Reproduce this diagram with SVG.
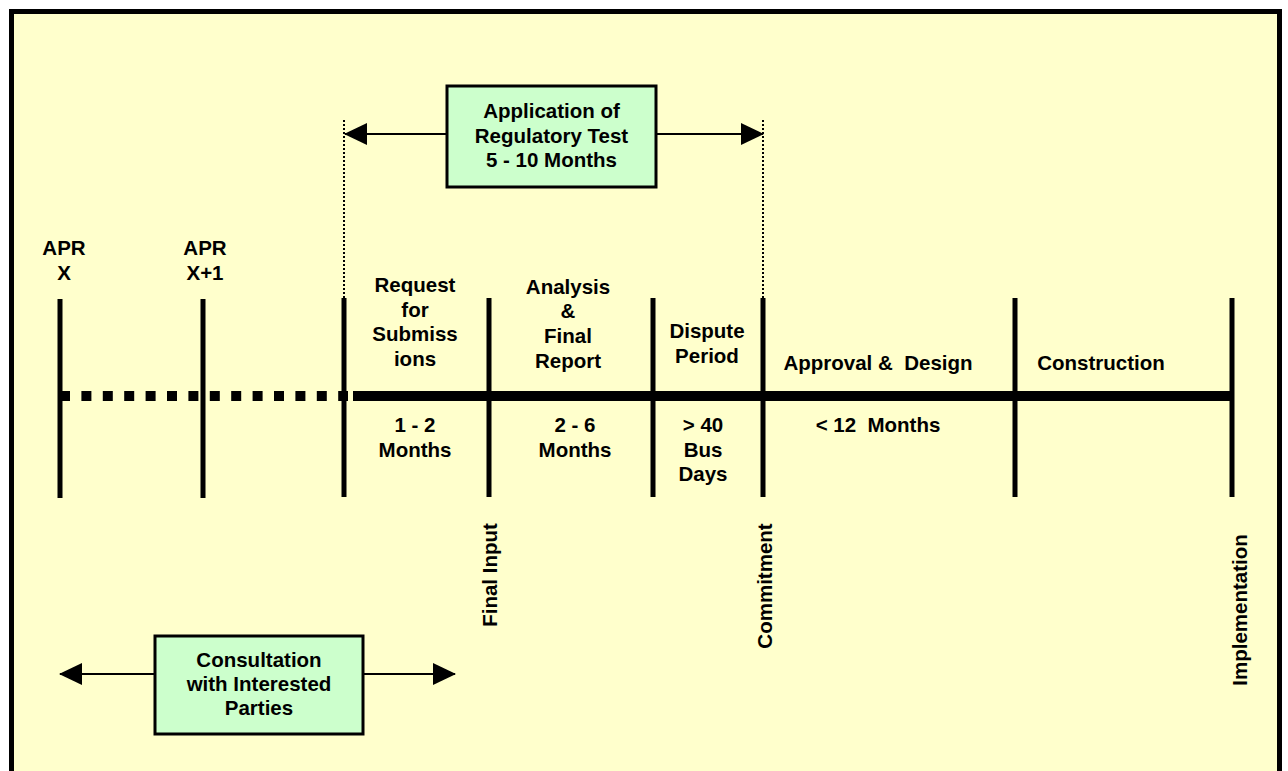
<svg xmlns="http://www.w3.org/2000/svg" width="1288" height="771" viewBox="0 0 1288 771">
  <style>
    .lbl { font-family: "Liberation Sans", Arial, sans-serif; font-weight: bold; font-size: 20.5px; fill: #000; text-anchor: middle; }
    .tick { stroke: #000; stroke-width: 5; fill: none; }
    .guide { stroke: #000; stroke-width: 2; stroke-dasharray: 2 2; fill: none; }
    .span { stroke: #000; stroke-width: 2; fill: none; marker-end: url(#head); }
    .box { fill: #CCFFCC; stroke: #000; stroke-width: 3; }
  </style>
  <defs>
    <marker id="head" markerUnits="userSpaceOnUse" markerWidth="23" markerHeight="22" refX="22" refY="11" orient="auto" viewBox="0 0 23 22">
      <path d="M0,0 L23,11 L0,22 Z" fill="#000"/>
    </marker>
  </defs>

  <!-- page background and frame -->
  <rect x="0" y="0" width="1288" height="771" fill="#FFFFFF"/>
  <rect x="11.5" y="11.5" width="1268" height="800" fill="#FFFFCC" stroke="#000" stroke-width="5"/>

  <!-- timeline and span arrows -->
  <g id="connectors">
    <line x1="60" y1="396" x2="348" y2="396" stroke="#000" stroke-width="10" stroke-dasharray="10 11.4"/>
    <line x1="353" y1="396" x2="1233" y2="396" stroke="#000" stroke-width="10"/>
    <line class="guide" x1="344" y1="120" x2="344" y2="298"/>
    <line class="guide" x1="763" y1="120" x2="763" y2="298"/>
    <line class="span" x1="447" y1="134" x2="345" y2="134"/>
    <line class="span" x1="656" y1="134" x2="763" y2="134"/>
    <line class="span" x1="155" y1="674" x2="60" y2="674"/>
    <line class="span" x1="363" y1="674" x2="455" y2="674"/>
  </g>

  <!-- milestone ticks -->
  <g id="ticks">
    <line class="tick" x1="60" y1="299" x2="60" y2="498"/>
    <line class="tick" x1="203" y1="299" x2="203" y2="498"/>
    <line class="tick" x1="344" y1="298" x2="344" y2="497"/>
    <line class="tick" x1="489" y1="298" x2="489" y2="497"/>
    <line class="tick" x1="653" y1="298" x2="653" y2="497"/>
    <line class="tick" x1="763" y1="298" x2="763" y2="497"/>
    <line class="tick" x1="1015" y1="298" x2="1015" y2="497"/>
    <line class="tick" x1="1232" y1="298" x2="1232" y2="497"/>
  </g>

  <g id="apr-x">
    <text class="lbl" x="64" y="255">APR</text>
    <text class="lbl" x="64" y="280">X</text>
  </g>
  <g id="apr-x1">
    <text class="lbl" x="205" y="255">APR</text>
    <text class="lbl" x="205" y="280">X+1</text>
  </g>

  <g id="request">
    <text class="lbl" x="415" y="292">Request</text>
    <text class="lbl" x="415" y="317">for</text>
    <text class="lbl" x="415" y="341">Submiss</text>
    <text class="lbl" x="415" y="366">ions</text>
    <text class="lbl" x="415" y="432">1 - 2</text>
    <text class="lbl" x="415" y="457">Months</text>
  </g>

  <g id="analysis">
    <text class="lbl" x="568" y="294">Analysis</text>
    <text class="lbl" x="568" y="318">&amp;</text>
    <text class="lbl" x="568" y="343">Final</text>
    <text class="lbl" x="568" y="368">Report</text>
    <text class="lbl" x="575" y="432">2 - 6</text>
    <text class="lbl" x="575" y="457">Months</text>
  </g>

  <g id="dispute">
    <text class="lbl" x="707" y="338">Dispute</text>
    <text class="lbl" x="707" y="363">Period</text>
    <text class="lbl" x="703" y="432">&gt; 40</text>
    <text class="lbl" x="703" y="457">Bus</text>
    <text class="lbl" x="703" y="481">Days</text>
  </g>

  <g id="approval">
    <text class="lbl" x="878" y="370" xml:space="preserve">Approval &amp;  Design</text>
    <text class="lbl" x="878" y="432" xml:space="preserve">&lt; 12  Months</text>
  </g>

  <g id="construction">
    <text class="lbl" x="1101" y="370">Construction</text>
  </g>

  <g id="final-input">
    <text class="lbl" transform="translate(497,575) rotate(-90)">Final Input</text>
  </g>
  <g id="commitment">
    <text class="lbl" transform="translate(772,586) rotate(-90)">Commitment</text>
  </g>
  <g id="implementation">
    <text class="lbl" transform="translate(1247,610) rotate(-90)">Implementation</text>
  </g>

  <g id="regulatory-test">
    <rect class="box" x="447" y="86" width="209" height="101"/>
    <text class="lbl" x="551.5" y="118">Application of</text>
    <text class="lbl" x="551.5" y="143">Regulatory Test</text>
    <text class="lbl" x="551.5" y="167">5 - 10 Months</text>
  </g>

  <g id="consultation">
    <rect class="box" x="155" y="636" width="208" height="98"/>
    <text class="lbl" x="259" y="667">Consultation</text>
    <text class="lbl" x="259" y="691">with Interested</text>
    <text class="lbl" x="259" y="715">Parties</text>
  </g>
</svg>
